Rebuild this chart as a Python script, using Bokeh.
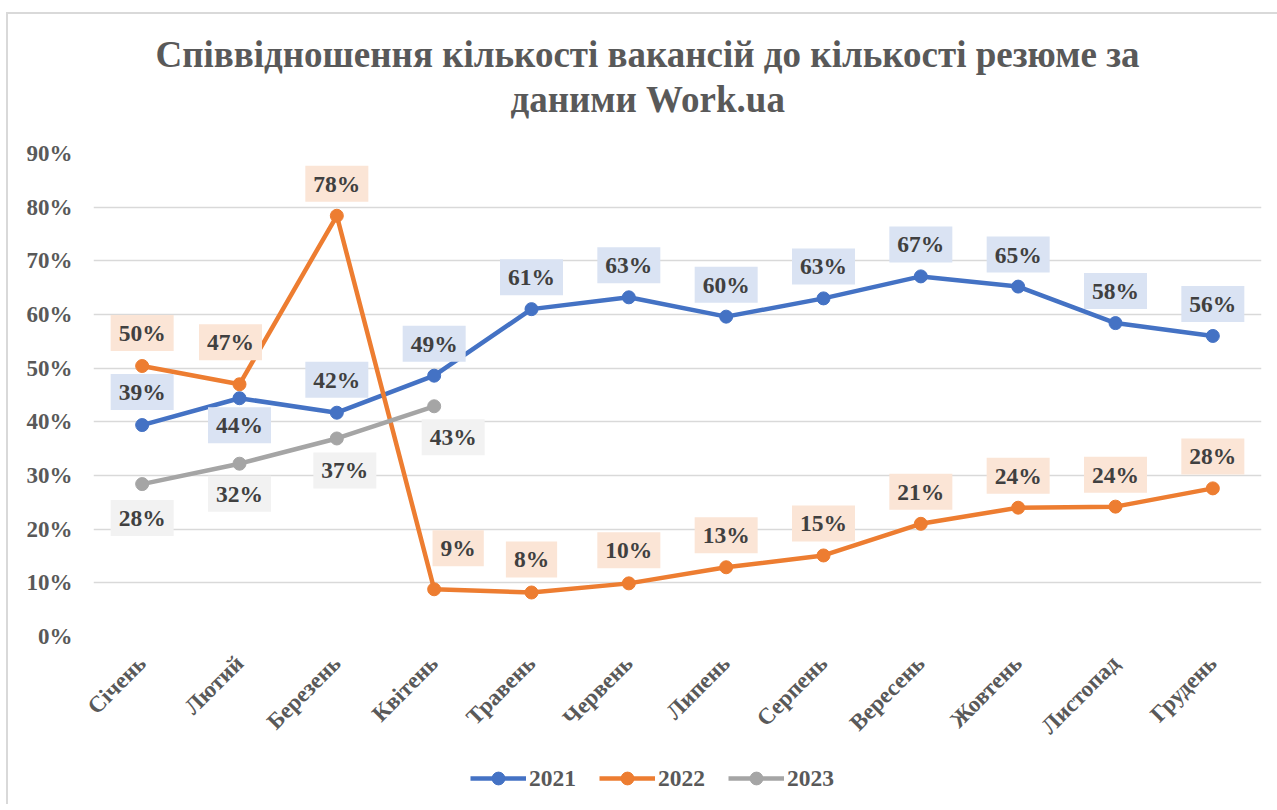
from bokeh.plotting import figure
from bokeh.models import (Range1d, FactorRange, NumeralTickFormatter, FixedTicker,
                          Legend, LegendItem, ColumnDataSource, Title)
from bokeh.layouts import column
from bokeh.core.properties import value
from bokeh.embed import file_html
from bokeh.resources import INLINE

# ---------------- data ----------------
months = ["Січень", "Лютий", "Березень", "Квітень", "Травень", "Червень",
          "Липень", "Серпень", "Вересень", "Жовтень", "Листопад", "Грудень"]
v2021 = [0.394, 0.444, 0.417, 0.486, 0.610, 0.632, 0.596, 0.630, 0.671, 0.652, 0.584, 0.560]
v2022 = [0.504, 0.470, 0.784, 0.088, 0.082, 0.099, 0.129, 0.151, 0.210, 0.240, 0.242, 0.276]
v2023 = [0.284, 0.322, 0.369, 0.429]
y_ticks = [0.0, 0.1, 0.2, 0.3, 0.4, 0.5, 0.6, 0.7, 0.8, 0.9]
title_lines = ["Співвідношення кількості вакансій до кількості резюме за", "даними Work.ua"]
series_names = ["2021", "2022", "2023"]

# label placement (screen pixels, +y is down)
dx2021 = [0, 0, 0, 0, 0, 0, 0, 0, 0, 0, 0, 0]
dy2021 = [-33, 27, -33, -32, -32, -32, -32, -32, -32, -32, -32, -32]
dx2022 = [0, -9, 0, 24, 0, 0, 0, 0, 0, 0, 0, 0]
dy2022 = [-33, -42, -32, -41, -33, -33, -32, -32, -32, -32, -32, -32]
dx2023 = [0, 0, 8, 19]
dy2023 = [34, 30, 32, 31]

colors = ["#4472C4", "#ED7D31", "#A5A5A5"]
label_bg = ["#DAE3F3", "#FBE5D6", "#F2F2F2"]
FONT = "Liberation Serif"
LBL = "23.5px"

W = 1277
H1, H2 = 752, 52
p = figure(width=W, height=H1, x_range=FactorRange(*months, range_padding=0),
           y_range=Range1d(0, 0.9), output_backend="svg", toolbar_location=None,
           min_border_left=93, min_border_right=16, min_border_top=153,
           min_border_bottom=116)
p.x_range.factor_padding = 0
p.outline_line_color = None
p.background_fill_color = "white"
p.border_fill_color = None

# titles: stacked outward from the frame (spacer first)
spacer = Title(text=" ", text_font=FONT, text_font_size="10px", standoff=20)
t2 = Title(text=title_lines[1], align="left", offset=417, text_font=FONT,
           text_font_style="bold", text_font_size="37px", text_color="#595959", standoff=2)
t1 = Title(text=title_lines[0], align="left", offset=62, text_font=FONT,
           text_font_style="bold", text_font_size="37px", text_color="#595959", standoff=2)
p.add_layout(spacer, "above")
p.add_layout(t2, "above")
p.add_layout(t1, "above")

# axes
p.yaxis.ticker = FixedTicker(ticks=y_ticks)
p.yaxis.formatter = NumeralTickFormatter(format="0%")
for ax in (p.xaxis, p.yaxis):
    ax.axis_line_color = None
    ax.major_tick_line_color = None
    ax.minor_tick_line_color = None
    ax.major_label_text_font = FONT
    ax.major_label_text_font_style = "bold"
    ax.major_label_text_color = "#595959"
p.yaxis.major_label_text_font_size = "23px"
p.yaxis.major_label_standoff = 15
p.xaxis.major_label_text_font_size = "23px"
p.xaxis.major_label_orientation = 0.785398
p.xaxis.major_label_standoff = 17

p.xgrid.grid_line_color = None
p.ygrid.grid_line_color = "#D9D9D9"
p.ygrid.grid_line_width = 1.5

# series
series = [(v2021, dx2021, dy2021), (v2022, dx2022, dy2022), (v2023, dx2023, dy2023)]
for i, (vals, dxs, dys) in enumerate(series):
    xs = months[:len(vals)]
    src = ColumnDataSource(dict(x=xs, y=vals))
    p.line("x", "y", source=src, line_color=colors[i], line_width=4.5)
    p.scatter("x", "y", source=src, size=13, fill_color=colors[i], line_color=colors[i])

for i, (vals, dxs, dys) in enumerate(series):
    xs = months[:len(vals)]
    src = ColumnDataSource(dict(x=xs, y=vals,
                                lab=["%d%%" % int(round(v * 100)) for v in vals],
                                dx=dxs, dy=dys))
    p.text("x", "y", text="lab", source=src, x_offset="dx", y_offset="dy",
           anchor="center", text_font=value(FONT), text_font_style="bold",
           text_font_size=LBL, text_color="#404040",
           background_fill_color=label_bg[i], padding=dict(x=8, y=5))

# legend strip (its key glyphs sit outside the visible range); frame aligned with main plot
lg = figure(width=W, height=H2, x_range=Range1d(0, 1), y_range=Range1d(0, 1),
            output_backend="svg", toolbar_location=None,
            min_border_left=93, min_border_right=16, min_border_top=0, min_border_bottom=0)
lg.axis.visible = False
lg.grid.grid_line_color = None
lg.outline_line_color = None
lg.background_fill_color = None
lg.border_fill_color = None
items = []
for i, name in enumerate(series_names):
    ksrc = ColumnDataSource(dict(x=[-5, -4], y=[-5, -5]))
    ln = lg.line("x", "y", source=ksrc, line_color=colors[i], line_width=4.5)
    sc = lg.scatter("x", "y", source=ksrc, size=13, fill_color=colors[i], line_color=colors[i])
    items.append(LegendItem(label=name, renderers=[ln, sc]))
legend = Legend(items=items, orientation="horizontal", location=(377, 10),
                border_line_color=None, background_fill_alpha=0,
                label_text_font=FONT, label_text_font_style="bold",
                label_text_font_size=LBL, label_text_color="#595959",
                glyph_width=56, glyph_height=32, spacing=23, label_standoff=3,
                padding=0, margin=0)
lg.add_layout(legend, "center")

layout = column(p, lg, spacing=0)
layout.styles = {
    "background": "linear-gradient(#D9D9D9, #D9D9D9) 6px 13px / 2px 100% no-repeat, "
                  "linear-gradient(#D9D9D9, #D9D9D9) 6px 12px / 100% 2px no-repeat, white"
}

open("out.html", "w").write(file_html(layout, INLINE))
